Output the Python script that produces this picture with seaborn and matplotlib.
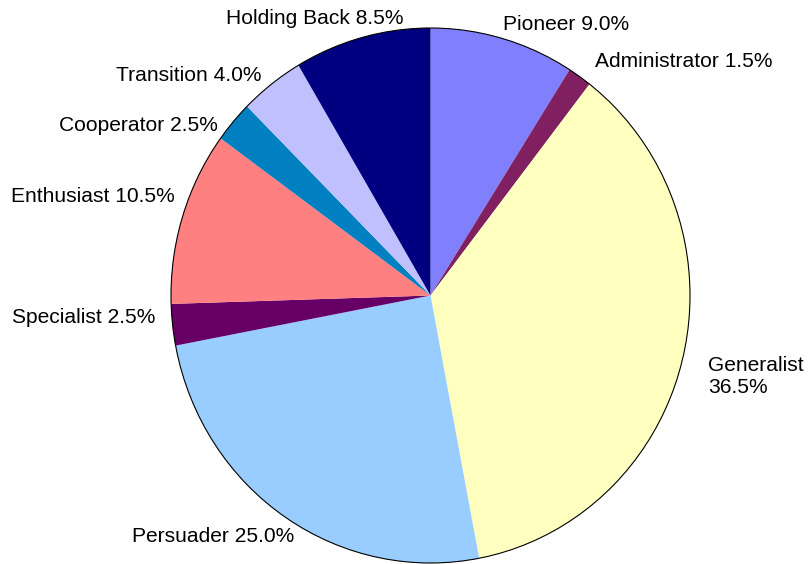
import matplotlib
matplotlib.use("Agg")
import matplotlib.pyplot as plt
import seaborn as sns

# slice data, clockwise from 12 o'clock
roles = ["Pioneer", "Administrator", "Generalist", "Persuader", "Specialist",
         "Enthusiast", "Cooperator", "Transition", "Holding Back"]
shares = [9.0, 1.5, 36.5, 25.0, 2.5, 10.5, 2.5, 4.0, 8.5]
colours = ["#8080FF", "#802060", "#FFFFC0", "#99CCFF", "#660066",
           "#FF8080", "#0080C0", "#C0C0FF", "#000080"]

sns.set_theme(style="white")
plt.rcParams['font.family'] = ['Liberation Sans', 'DejaVu Sans']

W, H = 809, 564
CX, CY = 430.5, 295.5     # pie centre in pixels
RX, RY = 259.5, 267.5     # the original pie is a touch taller than wide

fig = plt.figure(figsize=(W / 100, H / 100), dpi=100)
ax = fig.add_axes([0, 0, 1, 1])

labels = []
for r, s in zip(roles, shares):
    if r == "Generalist":
        labels.append(f"{r}\n{s:.1f}%")
    else:
        labels.append(f"{r} {s:.1f}%")

wedges, texts = ax.pie(shares, labels=labels, colors=colours, startangle=90,
                       counterclock=False, labeldistance=1.1,
                       wedgeprops=dict(linewidth=0),
                       textprops=dict(fontsize=15.1, color="black"))

# outline around the whole pie
ax.add_patch(plt.Circle((0, 0), 1, fill=False, edgecolor="black", linewidth=0.8))


def px(x, y):
    return (x - CX) / RX, (CY - y) / RY


# Excel-like label placement, anchor in pixels
label_pos = {
    "Pioneer": (503, 24, "left"),
    "Administrator": (595, 62, "left"),
    "Generalist": (708, 377, "left"),
    "Persuader": (294, 536, "right"),
    "Specialist": (155, 318, "right"),
    "Enthusiast": (175, 197, "right"),
    "Cooperator": (218, 126, "right"),
    "Transition": (262, 76, "right"),
    "Holding Back": (404, 19, "right"),
}
for t, r in zip(texts, roles):
    x, y, ha = label_pos[r]
    t.set_position(px(x, y))
    t.set_ha(ha)
    t.set_va("center")

ax.set_aspect("auto")
ax.set_xlim(-CX / RX, (W - CX) / RX)
ax.set_ylim(-(H - CY) / RY, CY / RY)
ax.axis("off")

fig.savefig("out.png", dpi=100, facecolor="white")
